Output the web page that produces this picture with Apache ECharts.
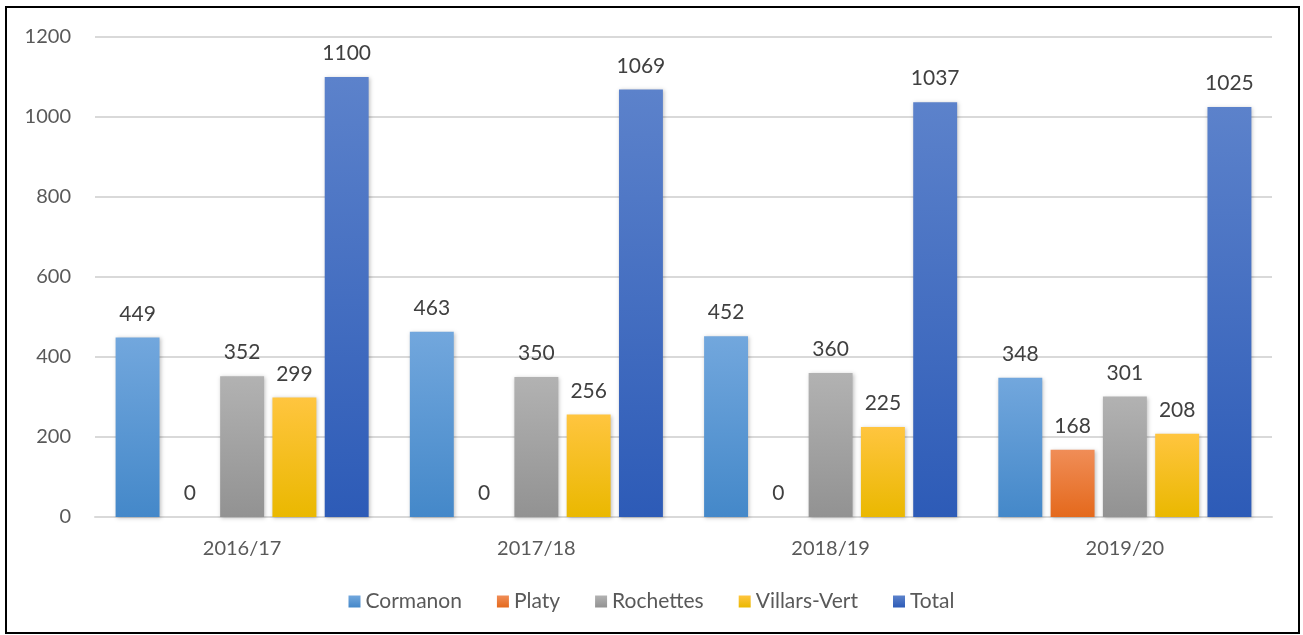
<!DOCTYPE html>
<html>
<head>
<meta charset="utf-8">
<script src="https://cdn.jsdelivr.net/npm/echarts@6/dist/echarts.min.js"></script>
<style>
  html, body { margin: 0; padding: 0; background: #fff; }
  #chart { width: 1303px; height: 635px; }
</style>
</head>
<body>
<div id="chart"></div>
<script>
const years = ['2016/17', '2017/18', '2018/19', '2019/20']
const cormanon = [449, 463, 452, 348]
const platy = [0, 0, 0, 168]
const rochettes = [352, 350, 360, 301]
const villarsVert = [299, 256, 225, 208]
const total = [1100, 1069, 1037, 1025]

const font = 'Lato, "Open Sans", sans-serif'

// dégradé vertical comme dans Excel
function grad (top, bottom) {
  return new echarts.graphic.LinearGradient(0, 0, 0, 1, [
    { offset: 0, color: top },
    { offset: 1, color: bottom }
  ])
}

function makeSeries (name, data, top, bottom) {
  return {
    name: name,
    type: 'bar',
    data: data,
    barGap: '19%',
    barCategoryGap: '14%',
    itemStyle: {
      color: grad(top, bottom),
      shadowColor: 'rgba(0,0,0,0.25)',
      shadowBlur: 4,
      shadowOffsetX: 1,
      shadowOffsetY: 1
    },
    label: {
      show: true,
      position: 'top',
      distance: 13,
      color: '#404040',
      fontSize: 21,
      fontFamily: font
    }
  }
}

const option = {
  animation: false,
  textStyle: { fontFamily: font },
  graphic: [{
    type: 'rect',
    shape: { x: 6, y: 7, width: 1293, height: 626 },
    style: { fill: 'none', stroke: '#000', lineWidth: 2 },
    silent: true
  }],
  grid: {
    left: 95,
    right: 31,
    top: 37,
    bottom: 118
  },
  legend: {
    bottom: 18,
    itemWidth: 12,
    itemHeight: 12,
    itemGap: 35,
    icon: 'rect',
    textStyle: { color: '#595959', fontSize: 21, fontFamily: font },
    data: ['Cormanon', 'Platy', 'Rochettes', 'Villars-Vert', 'Total']
  },
  xAxis: {
    type: 'category',
    data: years,
    axisLine: { lineStyle: { color: '#d9d9d9', width: 2 } },
    axisTick: { show: false },
    axisLabel: { color: '#595959', fontSize: 20, margin: 22, fontFamily: font }
  },
  yAxis: {
    type: 'value',
    min: 0,
    max: 1200,
    interval: 200,
    axisLine: { show: false },
    axisTick: { show: false },
    splitLine: { lineStyle: { color: '#d9d9d9', width: 2 } },
    axisLabel: {
      color: '#595959',
      fontSize: 20,
      margin: 24,
      fontFamily: font,
      formatter: v => String(v)
    }
  },
  series: [
    makeSeries('Cormanon', cormanon, '#72a7dd', '#4488c9'),
    makeSeries('Platy', platy, '#f08d57', '#e4691c'),
    makeSeries('Rochettes', rochettes, '#b2b2b2', '#929292'),
    makeSeries('Villars-Vert', villarsVert, '#ffc53f', '#eab800'),
    makeSeries('Total', total, '#5c82cb', '#2d5bb7')
  ]
}

const myChart = echarts.init(document.getElementById('chart'))
myChart.setOption(option)
</script>
</body>
</html>
